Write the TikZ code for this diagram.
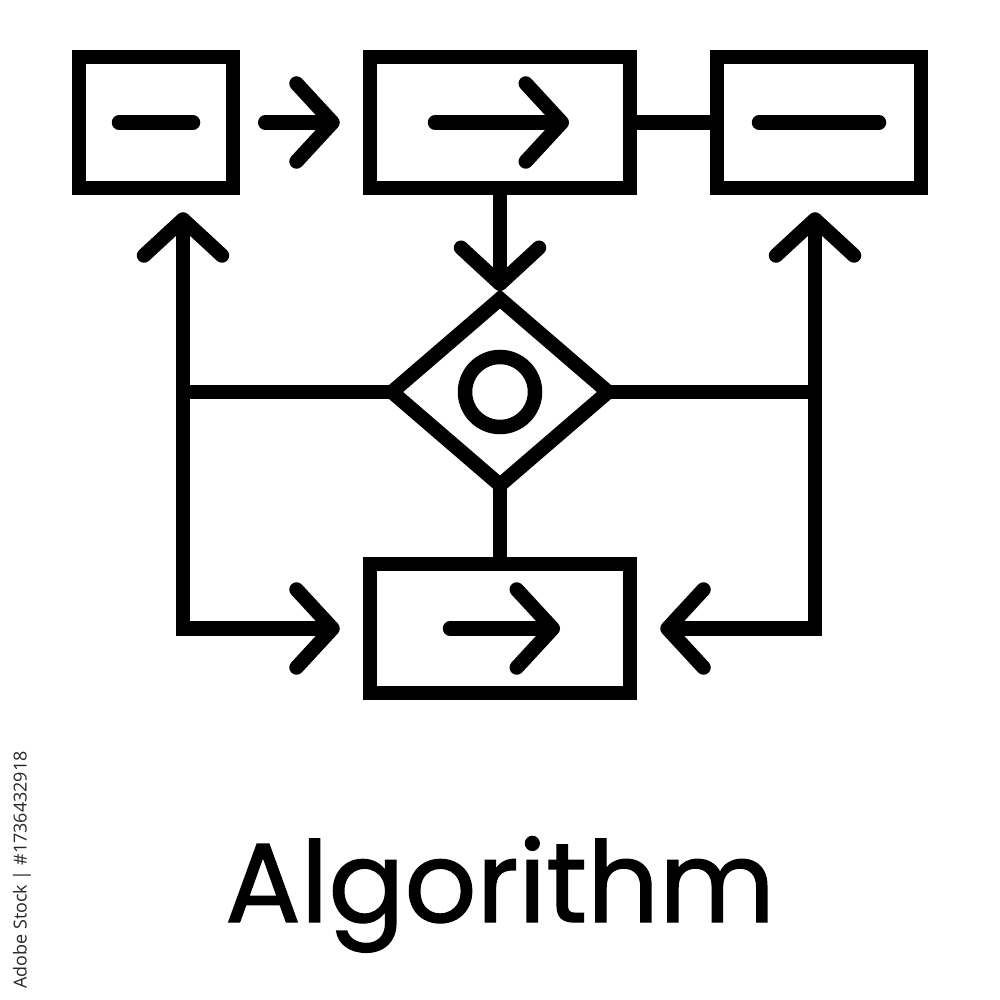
\documentclass[tikz,border=0pt]{standalone}
\usepackage{fontspec}
\setmainfont{Poppins}
\newfontfamily\titlefont{Poppins}[FakeBold=1.2]
\newfontfamily\stockfont{Open Sans}
\usepackage{tikz}
\usetikzlibrary{arrows.meta}
\usetikzlibrary{shapes.geometric,positioning}

\begin{document}
\begin{tikzpicture}[node distance=2.7cm,>={Straight Barb[length=0.36cm,width=0.78cm,round]},line width=0.145cm]

  \tikzstyle{block}=[rectangle,draw=black,minimum height=1.31cm,inner sep=0pt]
  \tikzstyle{decision}=[diamond,draw=black,minimum width=2.16cm,
                        minimum height=1.86cm,inner sep=0pt,outer sep=0pt]
  \tikzstyle{glyph}=[line cap=round]

  \useasboundingbox (0,0) rectangle (10,-10);

  \begin{scope}

    %decision in the middle
    \node [decision] (dec) at (5,-3.92) {};
    \node [circle,draw=black,inner sep=0pt,minimum size=0.7cm] (ring) at (dec) {};

    %boxes
    \node [block,minimum width=2.6cm] (b) [node distance=2.695cm,above of=dec] {};
    \node [block,minimum width=1.54cm] (a) [node distance=3.44cm,left of=b] {};
    \node [block,minimum width=2.04cm] (c) [node distance=3.19cm,right of=b] {};
    \node [block,minimum width=2.6cm,minimum height=1.29cm] (d) [node distance=2.365cm,below of=dec] {};

    %rails at the sides
    \coordinate (lrail) at (1.83,0);
    \coordinate (rrail) at (8.15,0);

    %connectors
    \draw [->,line cap=round,shorten <=0.25cm,shorten >=0.23cm] (a) -- (b);
    \draw (b) -- (c);
    \draw [->,shorten >=0.08cm] (b) -- (dec);
    \draw (dec) -- (d);
    \draw (dec.west) -- (dec.west -| lrail);
    \draw (dec.east) -- (dec.east -| rrail);
    \draw [<->,shorten <=0.17cm,shorten >=0.23cm] (a.south -| lrail) |- (d.west);
    \draw [<->,shorten <=0.17cm,shorten >=0.23cm] (c.south -| rrail) |- (d.east);

    %marks inside the boxes
    \draw [glyph] ([xshift=-0.37cm]a.center) -- ([xshift=0.37cm]a.center);
    \draw [glyph,->] ([xshift=-0.65cm]b.center) -- ([xshift=0.69cm]b.center);
    \draw [glyph] ([xshift=-0.6cm]c.center) -- ([xshift=0.6cm]c.center);
    \draw [glyph,->] ([xshift=-0.5cm]d.center) -- ([xshift=0.6cm]d.center);

  \end{scope}

  \node [anchor=base,font=\titlefont\fontsize{32}{36}\selectfont] (title) at (5,-9.22) {Algorithm};
  \node [rotate=90,text=black!85,font=\stockfont\fontsize{5.1}{6}\selectfont] (stock) at (0.22,-8.7) {Adobe Stock | \#1736432918};

\end{tikzpicture}
\end{document}
